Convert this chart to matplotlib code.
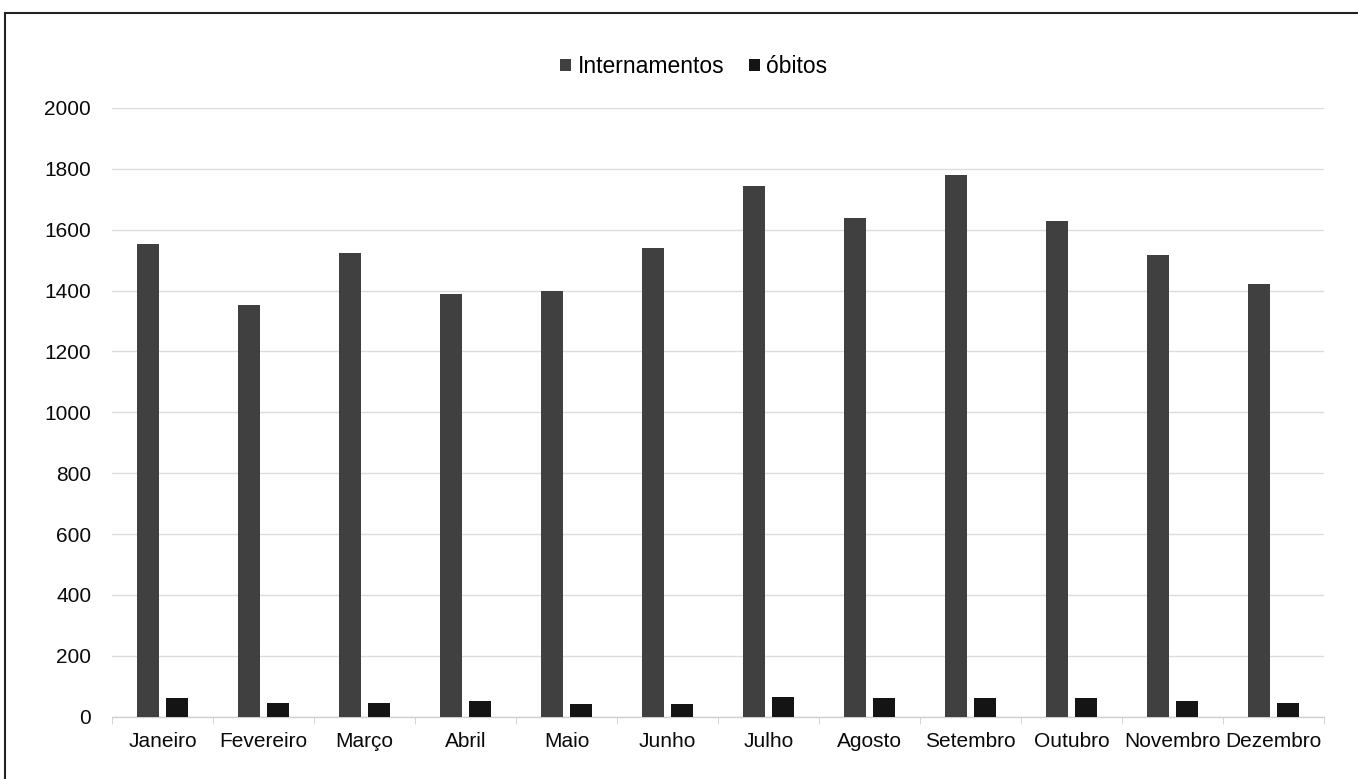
import numpy as np
import matplotlib.pyplot as plt
from matplotlib.patches import Rectangle

plt.rcParams['font.family'] = ['Liberation Sans', 'DejaVu Sans']

meses = ["Janeiro", "Fevereiro", "Março", "Abril", "Maio", "Junho",
         "Julho", "Agosto", "Setembro", "Outubro", "Novembro", "Dezembro"]
internamentos = [1552, 1352, 1525, 1388, 1399, 1540, 1745, 1637, 1781, 1628, 1516, 1421]
obitos = [62, 46, 46, 50, 42, 42, 66, 62, 62, 62, 50, 46]

fig = plt.figure(figsize=(13.58, 7.79), dpi=100)
ax = fig.add_axes([0.0825, 0.080, 0.8925, 0.7814])

x = np.arange(len(meses))
w = 0.222
ax.bar(x - 0.143, internamentos, w, color='#404040', label='Internamentos', zorder=3)
ax.bar(x + 0.143, obitos, w, color='#141414', label='óbitos', zorder=3)

ax.set_xlim(-0.5, len(meses) - 0.5)
ax.set_ylim(0, 2000)
ax.set_yticks(np.arange(0, 2001, 200))
ax.yaxis.grid(True, color='#dcdcdc', lw=1, zorder=0)
ax.set_axisbelow(True)

for s in ['top', 'right', 'left']:
    ax.spines[s].set_visible(False)
ax.spines['bottom'].set_color('#d0d0d0')
ax.spines['bottom'].set_linewidth(1)

ax.set_xticks(x)
ax.set_xticklabels(meses, fontsize=15, color='#0a0a0a')
ax.set_xticks(np.arange(-0.5, len(meses)), minor=True)
ax.tick_params(axis='x', which='major', length=0, pad=11)
ax.tick_params(axis='x', which='minor', length=5, color='#d0d0d0')
ax.tick_params(axis='y', length=0, pad=15, labelsize=15, labelcolor='#0a0a0a')

fig.legend(loc='center', bbox_to_anchor=(0.511, 0.914), ncol=2, frameon=False,
           fontsize=16.5, handlelength=0.45, handleheight=0.45, handletextpad=0.3,
           columnspacing=1.1)

# frame around the figure
fig.patches.append(Rectangle((5 / 1358, -0.02), 1.02, 1 - 13 / 779 + 0.02,
                             transform=fig.transFigure, fill=False,
                             edgecolor='#222222', lw=1.5))

fig.savefig('out.png', dpi=100)
